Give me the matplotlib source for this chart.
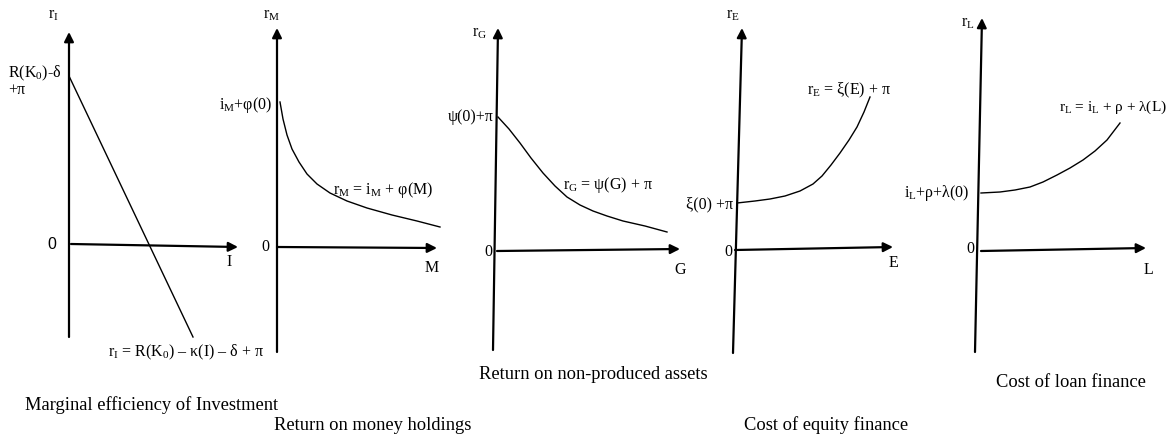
import numpy as np
import matplotlib
matplotlib.use('Agg')
import matplotlib.pyplot as plt

plt.rcParams['font.family'] = ['Liberation Serif', 'DejaVu Serif']
plt.rcParams['mathtext.fontset'] = 'custom'
plt.rcParams['mathtext.rm'] = 'Liberation Serif'
plt.rcParams['mathtext.it'] = 'Liberation Serif:italic'

# curves (panel units, origin at the axes crossing)
invest_x = [0.0, 12.4]
invest_r = [16.8, -9.3]

money_x = [0.3, 0.6, 1.0, 1.5, 2.2, 3.0, 4.0, 5.3, 7.0, 9.0, 11.5, 14.0, 16.3]
money_r = [14.5, 12.8, 11.2, 9.8, 8.5, 7.3, 6.3, 5.4, 4.6, 3.9, 3.2, 2.6, 2.0]

land_x = [0.1, 1.2, 2.3, 3.4, 4.6, 5.8, 7.0, 8.3, 9.6, 11.0, 12.6, 14.8, 17.0]
land_r = [13.4, 12.2, 10.8, 9.3, 7.8, 6.5, 5.4, 4.6, 4.0, 3.5, 3.0, 2.5, 1.9]

equity_x = [0.2, 2.0, 3.5, 5.0, 6.5, 7.8, 8.7, 9.6, 10.5, 11.4, 12.2, 12.9, 13.5]
equity_r = [4.7, 4.9, 5.1, 5.4, 5.9, 6.6, 7.4, 8.5, 9.7, 11.0, 12.3, 13.8, 15.3]

loan_x = [0.1, 2.0, 3.5, 5.0, 6.3, 7.7, 9.0, 10.3, 11.5, 12.7, 14.0]
loan_r = [5.8, 5.9, 6.1, 6.4, 6.9, 7.6, 8.3, 9.1, 10.0, 11.1, 12.8]

titles = ['Marginal efficiency of Investment', 'Return on money holdings',
          'Return on non-produced assets', 'Cost of equity finance',
          'Cost of loan finance']

panels = [
    # origin px (x, y), y-axis bottom/top, x-axis start/tip (panel units)
    dict(o=(69, 244), yb=(0.0, -9.3), yt=(0.0, 21.2), xs=(0.2, 0.0), xt=(16.9, -0.3),
         x=invest_x, r=invest_r),
    dict(o=(277, 247), yb=(0.0, -10.5), yt=(0.0, 21.9), xs=(0.0, 0.0), xt=(16.0, -0.1),
         x=money_x, r=money_r),
    dict(o=(497, 251), yb=(-0.4, -9.9), yt=(0.1, 22.3), xs=(0.0, 0.0), xt=(18.3, 0.2),
         x=land_x, r=land_r),
    dict(o=(735, 250), yb=(-0.2, -10.3), yt=(0.7, 22.2), xs=(0.0, 0.0), xt=(15.8, 0.3),
         x=equity_x, r=equity_r),
    dict(o=(980, 251), yb=(-0.5, -10.1), yt=(0.2, 23.3), xs=(0.1, 0.0), xt=(16.6, 0.3),
         x=loan_x, r=loan_r),
]

W, H = 1170, 440
fig = plt.figure(figsize=(W / 100, H / 100), dpi=100)

FS = 11.5
TS = 13.3
axes = []
for p in panels:
    ox, oy = p['o']
    ax = fig.add_axes([(ox - 70) / W, 0, 270 / W, 1])
    ax.set_xlim(-7, 20)
    ax.set_ylim((oy - H) / 10, oy / 10)
    ax.axis('off')
    ax.patch.set_visible(False)
    arrow = dict(arrowstyle='-|>', lw=1.6, color='black', mutation_scale=14,
                 shrinkA=0, shrinkB=0)
    ax.annotate('', xy=p['yt'], xytext=p['yb'], arrowprops=arrow, annotation_clip=False)
    ax.annotate('', xy=p['xt'], xytext=p['xs'], arrowprops=arrow, annotation_clip=False)
    ax.plot(p['x'], p['r'], color='black', lw=1.0, clip_on=False)
    axes.append(ax)

def put(ax, x, y, s, ha='left', size=FS, **kw):
    ax.text(x, y, s, ha=ha, va='center', fontsize=size, clip_on=False, **kw)

a1, a2, a3, a4, a5 = axes

# panel 1
put(a1, -1.6, 22.9, r'r$_\mathrm{I}$', ha='center')
put(a1, -6.1, 17.1, r'R(K$_0$)-δ')
put(a1, -6.1, 15.4, '+π')
put(a1, -1.7, 0.0, '0', ha='center', family='Liberation Sans')
put(a1, 16.0, -1.8, 'I', ha='center')
put(a1, 3.9, -10.8, r'r$_\mathrm{I}$ = R(K$_0$) – κ(I) – δ + π')
put(a1, -4.4, -16.1, titles[0], size=TS)

# panel 2
put(a2, -0.5, 23.2, r'r$_\mathrm{M}$', ha='center')
put(a2, -1.2, 0.0, '0', ha='center')
put(a2, 15.5, -2.1, 'M', ha='center')
put(a2, -0.5, 14.2, r'i$_\mathrm{M}$+φ(0)', ha='right')
put(a2, 5.6, 5.7, r'r$_\mathrm{M}$ = i$_\mathrm{M}$ + φ(M)')
put(a2, 9.6, -17.8, titles[1], ha='center', size=TS)

# panel 3
put(a3, -1.7, 21.8, r'r$_\mathrm{G}$', ha='center')
put(a3, -0.3, 13.4, 'ψ(0)+π', ha='right')
put(a3, -0.9, -0.1, '0', ha='center')
put(a3, 18.3, -1.9, 'G', ha='center')
put(a3, 6.6, 6.6, r'r$_\mathrm{G}$ = ψ(G) + π')
put(a3, 9.6, -12.3, titles[2], ha='center', size=TS)

# panel 4
put(a4, -0.2, 23.5, r'r$_\mathrm{E}$', ha='center')
put(a4, -0.2, 4.6, 'ξ(0) +π', ha='right')
put(a4, -0.7, -0.2, '0', ha='center')
put(a4, 15.8, -1.3, 'E', ha='center')
put(a4, 7.2, 16.0, r'r$_\mathrm{E}$ = ξ(E) + π')
put(a4, 9.1, -17.5, titles[3], ha='center', size=TS)

# panel 5
put(a5, -1.2, 22.8, r'r$_\mathrm{L}$', ha='center')
put(a5, -1.0, 5.8, r'i$_\mathrm{L}$+ρ+λ(0)', ha='right')
put(a5, -1.0, 0.2, '0', ha='center')
put(a5, 16.8, -1.9, 'L', ha='center')
put(a5, 18.7, 14.4, r'r$_\mathrm{L}$ = i$_\mathrm{L}$ + ρ + λ(L)', ha='right', size=11)
put(a5, 9.1, -13.1, titles[4], ha='center', size=TS)

fig.savefig('out.png', dpi=100, facecolor='white')
